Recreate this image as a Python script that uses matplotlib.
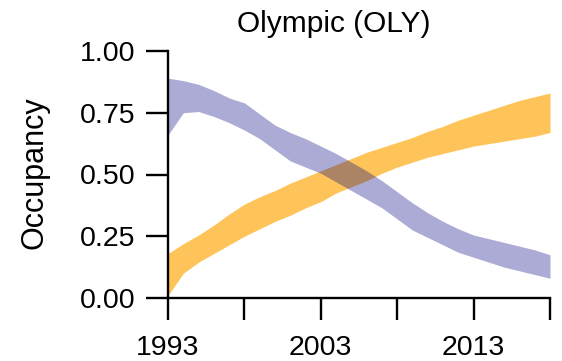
import matplotlib
matplotlib.use("Agg")
import matplotlib.pyplot as plt
import numpy as np

plt.rcParams['font.family'] = ['Liberation Sans', 'DejaVu Sans']

years = [1993, 1994, 1995, 1996, 1997, 1998, 1999, 2000, 2001, 2002, 2003, 2004, 2005,
         2006, 2007, 2008, 2009, 2010, 2011, 2012, 2013, 2014, 2015, 2016, 2017, 2018]

# credible band of occupancy, species A (orange)
orange_upper = [0.18, 0.22, 0.255, 0.295, 0.34, 0.38, 0.41, 0.435, 0.465, 0.49, 0.515, 0.54, 0.565,
                0.59, 0.61, 0.63, 0.65, 0.675, 0.695, 0.72, 0.74, 0.76, 0.78, 0.80, 0.815, 0.83]
orange_lower = [0.01, 0.10, 0.145, 0.18, 0.215, 0.25, 0.28, 0.31, 0.335, 0.365, 0.39, 0.425, 0.45,
                0.475, 0.505, 0.53, 0.55, 0.57, 0.585, 0.60, 0.615, 0.625, 0.635, 0.645, 0.655, 0.67]

# credible band of occupancy, species B (purple)
purple_upper = [0.89, 0.88, 0.865, 0.84, 0.81, 0.79, 0.745, 0.70, 0.67, 0.645, 0.615, 0.585, 0.55,
                0.515, 0.475, 0.43, 0.385, 0.345, 0.31, 0.28, 0.255, 0.24, 0.225, 0.21, 0.195, 0.175]
purple_lower = [0.66, 0.75, 0.755, 0.735, 0.71, 0.68, 0.645, 0.60, 0.555, 0.53, 0.505, 0.47, 0.435,
                0.40, 0.365, 0.32, 0.275, 0.245, 0.215, 0.185, 0.165, 0.145, 0.125, 0.11, 0.095, 0.08]

x_ticks = [1993, 1998, 2003, 2008, 2013, 2018]
x_ticklabels = ["1993", "", "2003", "", "2013", ""]
y_ticks = [0.0, 0.25, 0.5, 0.75, 1.0]
y_ticklabels = ["0.00", "0.25", "0.50", "0.75", "1.00"]

W, H = 562, 361
fig = plt.figure(figsize=(W / 100, H / 100), dpi=100)
ax = fig.add_axes([168 / W, 1 - 298 / H, (550 - 168) / W, (298 - 51) / H])

ax.fill_between(years, orange_lower, orange_upper, color="orange", alpha=0.65, linewidth=0)
ax.fill_between(years, purple_lower, purple_upper, color="navy", alpha=0.33, linewidth=0)

ax.set_xlim(1993, 2018)
ax.set_ylim(0, 1)
for s in ["top", "right"]:
    ax.spines[s].set_visible(False)
for s in ["left", "bottom"]:
    ax.spines[s].set_linewidth(1.7)

ax.set_xticks(x_ticks)
ax.set_xticklabels(x_ticklabels)
ax.set_yticks(y_ticks)
ax.set_yticklabels(y_ticklabels)
ax.tick_params(axis="both", direction="out", length=15.5, width=1.7, labelsize=20.5)
ax.tick_params(axis="x", pad=11)
ax.tick_params(axis="y", pad=8)

fig.text(35 / W, 1 - 173 / H, "Occupancy", rotation=90, ha="center", va="center", fontsize=22)
fig.text(334 / W, 1 - 24 / H, "Olympic (OLY)", ha="center", va="center", fontsize=21.5)

fig.savefig("out.png", dpi=100)
